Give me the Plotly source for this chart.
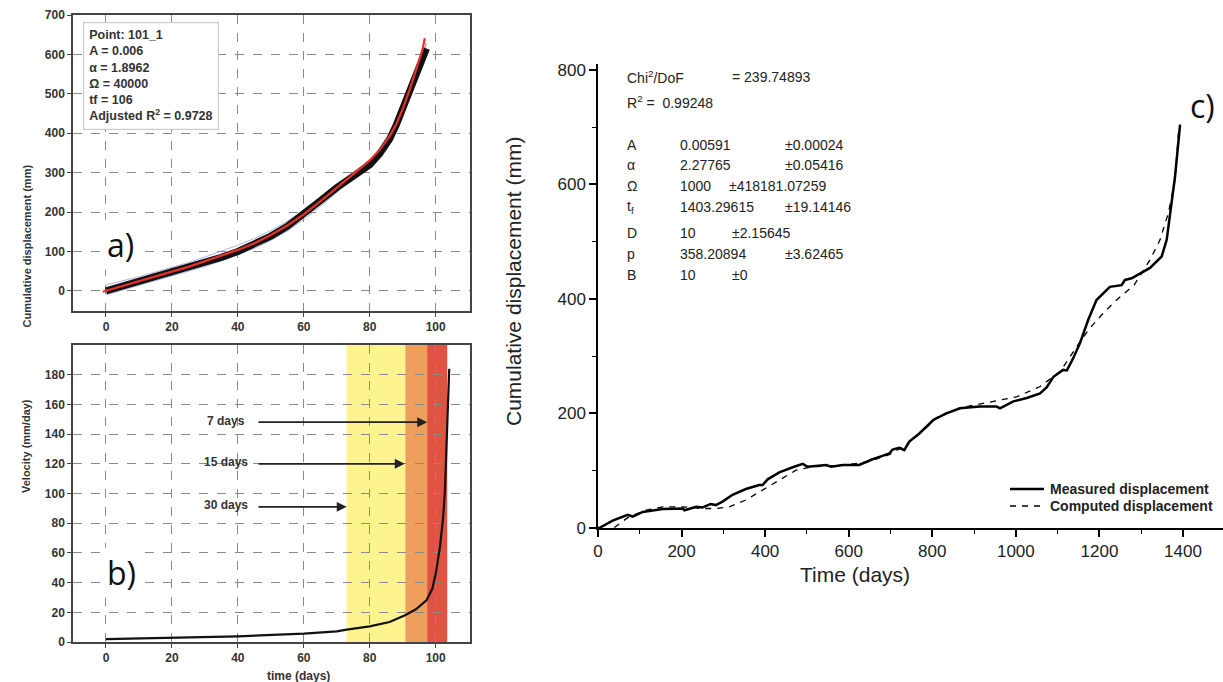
import plotly.graph_objects as go

W, H = 1223, 682

# ---------------- Panel a data ----------------
a_days = [0, 5, 10, 15, 20, 25, 30, 35, 40, 45, 50, 55, 60, 65, 70, 75, 80, 83, 86, 88, 90, 92, 94, 96, 97.2]
a_meas = [0, 12, 24, 36, 48, 59, 71, 85, 100, 118, 139, 164, 194, 229, 262, 292, 320, 348, 385, 420, 465, 510, 552, 592, 615]
a_fit_days = [-1, 5, 10, 15, 20, 25, 30, 35, 40, 45, 50, 55, 60, 65, 70, 75, 80, 83, 86, 88, 90, 92, 94, 96, 96.7]
a_fit = [-2, 12, 24, 36, 49, 61, 75, 89, 104, 121, 142, 166, 194, 227, 262, 296, 331, 358, 392, 422, 462, 508, 558, 612, 641]
a_up = [15, 25, 36, 48, 60, 72, 86, 100, 116, 133, 153, 177, 203, 235, 268, 300, 333, 360, 393, 424, 463, 508, 556, 605, 630]
a_lo = [-10, 2, 13, 25, 37, 49, 62, 76, 91, 108, 128, 152, 181, 214, 250, 285, 322, 350, 385, 418, 460, 506, 553, 600, 625]

# ---------------- Panel b data ----------------
b_days = [0, 20, 40, 60, 70, 73, 80, 86, 90.7, 94, 97.2, 99, 100, 101.3, 102.3, 102.8, 103.3, 103.8, 104.1]
b_vel = [2, 2.8, 3.8, 5.6, 7.2, 8.3, 10.5, 13.5, 18, 22, 28, 36, 46, 64, 85, 102, 130, 165, 184]
b_bands = [(73, 90.8, "#FDF490"), (90.8, 97.4, "#EE9F5C"), (97.4, 103.5, "#DF5342")]
b_arrows = [("7 days", 148, 45.8, 97.4), ("15 days", 120, 45.8, 90.6), ("30 days", 91, 45.8, 73)]

# ---------------- Panel c data ----------------
c_days = [0, 3, 35, 71, 83, 107, 155, 203, 207, 235, 250, 270, 282, 298, 322, 354, 386, 394, 406, 434,
          466, 490, 502, 546, 558, 586, 625, 657, 681, 697, 705, 721, 733, 745, 769, 785, 803, 834,
          866, 914, 954, 962, 994, 1026, 1058, 1074, 1090, 1113, 1122, 1137, 1153, 1173, 1193, 1225,
          1253, 1261, 1277, 1321, 1349, 1361, 1369, 1381, 1393]
c_meas = [0, 0, 13, 23, 20, 28, 33, 34, 31, 37, 36, 42, 40, 46, 58, 68, 75, 75, 85, 97,
          106, 112, 107, 110, 107, 110, 110, 120, 126, 130, 137, 140, 136, 151, 165, 177, 189, 200,
          209, 212, 212, 209, 221, 227, 235, 246, 264, 276, 275, 296, 322, 363, 398, 421,
          424, 433, 436, 454, 474, 503, 550, 614, 704]
c_comp_days = [39, 75, 115, 155, 203, 250, 282, 314, 354, 394, 434, 474, 514, 594, 649, 697, 737, 775,
               818, 882, 946, 1002, 1058, 1106, 1146, 1175, 1209, 1241, 1283, 1321, 1345, 1365, 1381, 1389]
c_comp = [1, 20, 31, 37, 37, 34, 34, 37, 49, 66, 84, 101, 107, 110, 116, 128, 145, 168,
          197, 212, 221, 229, 247, 273, 317, 347, 375, 398, 424, 468, 503, 550, 608, 690]
c_legend = ["Measured displacement", "Computed displacement"]

fig = go.Figure()

# panel a traces
fig.add_trace(go.Scatter(x=a_days, y=a_up, mode="lines", line=dict(color="rgba(140,150,220,0.7)", width=1),
                         xaxis="x", yaxis="y"))
fig.add_trace(go.Scatter(x=a_days, y=a_lo, mode="lines", line=dict(color="rgba(140,150,220,0.7)", width=1),
                         xaxis="x", yaxis="y"))
fig.add_trace(go.Scatter(x=a_days, y=a_meas, mode="lines", line=dict(color="#111111", width=7),
                         xaxis="x", yaxis="y"))
fig.add_trace(go.Scatter(x=a_fit_days, y=a_fit, mode="lines", line=dict(color="#E8302A", width=2.2),
                         xaxis="x", yaxis="y"))

# panel b trace
fig.add_trace(go.Scatter(x=b_days, y=b_vel, mode="lines", line=dict(color="#111111", width=2.2),
                         xaxis="x2", yaxis="y2"))

# panel c traces
fig.add_trace(go.Scatter(x=c_days, y=c_meas, mode="lines", line=dict(color="#000000", width=2.5),
                         xaxis="x3", yaxis="y3", name=c_legend[0]))
fig.add_trace(go.Scatter(x=c_comp_days, y=c_comp, mode="lines", line=dict(color="#000000", width=1.3, dash="6px,6px"),
                         xaxis="x3", yaxis="y3", name=c_legend[1]))

bold = dict(family="Liberation Sans, Arial", size=12, color="#333333", weight="bold")
grid_common = dict(showgrid=True, gridcolor="#8a8a8a", griddash="dash", gridwidth=1,
                   showline=True, linecolor="#444444", linewidth=1.5, mirror=True,
                   ticks="outside", ticklen=4, tickcolor="#444444", zeroline=False,
                   tickfont=bold, automargin=False)
c_font = dict(family="Liberation Sans, Arial", size=17, color="#222")

fig.update_layout(
    width=W, height=H, margin=dict(l=0, r=0, t=0, b=0, pad=0, autoexpand=False),
    paper_bgcolor="white", plot_bgcolor="white", showlegend=False,
    xaxis=dict(domain=[73 / W, 470 / W], range=[-10, 110.4], tickvals=[0, 20, 40, 60, 80, 100],
               anchor="y", **grid_common),
    yaxis=dict(domain=[1 - 311 / H, 1 - 15 / H], range=[-51, 700], tickvals=list(range(0, 701, 100)),
               anchor="x", **grid_common),
    xaxis2=dict(domain=[73 / W, 470 / W], range=[-10, 110.4], tickvals=[0, 20, 40, 60, 80, 100],
                anchor="y2", **grid_common),
    yaxis2=dict(domain=[1 - 642 / H, 1 - 345 / H], range=[0, 200], tickvals=list(range(0, 181, 20)),
                anchor="x2", **grid_common),
    xaxis3=dict(domain=[598 / W, 1.0], range=[0, 625 / 585 * 1400], tickvals=list(range(0, 1401, 200)),
                anchor="y3", showgrid=False, zeroline=False, showline=True, linecolor="#000", linewidth=1.5,
                ticks="outside", ticklen=7, tickwidth=1.5, tickcolor="#000", automargin=False,
                minor=dict(tickvals=list(range(100, 1500, 200)), ticks="outside", ticklen=4, tickwidth=1.2, tickcolor="#000"),
                tickfont=c_font),
    yaxis3=dict(domain=[1 - 528 / H, 1 - 64 / H], range=[0, 810], tickvals=list(range(0, 801, 200)),
                anchor="x3", showgrid=False, zeroline=False, showline=True, linecolor="#000", linewidth=1.5,
                ticks="outside", ticklen=7, tickwidth=1.5, tickcolor="#000", automargin=False,
                minor=dict(tickvals=list(range(100, 800, 200)), ticks="outside", ticklen=4, tickwidth=1.2, tickcolor="#000"),
                tickfont=c_font),
)

shapes = []
for x0, x1, col in b_bands:
    shapes.append(dict(type="rect", xref="x2", yref="y2", x0=x0, x1=x1, y0=0, y1=200,
                       fillcolor=col, line=dict(width=0), layer="below"))
# panel c legend samples
shapes.append(dict(type="line", xref="paper", yref="paper", x0=1010 / W, x1=1044 / W, y0=1 - 489 / H, y1=1 - 489 / H,
                   line=dict(color="#000", width=2.5)))
shapes.append(dict(type="line", xref="paper", yref="paper", x0=1010 / W, x1=1044 / W, y0=1 - 506 / H, y1=1 - 506 / H,
                   line=dict(color="#000", width=1.3, dash="6px,6px")))
fig.update_layout(shapes=shapes)

ann = []
# panel a info box
ann.append(dict(xref="paper", yref="paper", x=83 / W, y=1 - 22 / H, xanchor="left", yanchor="top",
                text="Point: 101_1<br>A = 0.006<br>α = 1.8962<br>Ω = 40000<br>tf = 106<br>Adjusted R<sup>2</sup> = 0.9728",
                showarrow=False, align="left", font=dict(family="Liberation Sans, Arial", size=12.5, color="#333", weight="bold"),
                bgcolor="white", bordercolor="#cccccc", borderwidth=1.2, borderpad=5))
# panel labels
lab_font = dict(family="Open Sans, Liberation Sans", size=32, color="#111")
ann.append(dict(xref="paper", yref="paper", x=103 / W, y=1 - 244 / H, xanchor="left", text="a)", showarrow=False,
                font=lab_font, bgcolor="white", borderpad=3))
ann.append(dict(xref="paper", yref="paper", x=103 / W, y=1 - 598 / H, xanchor="left", text="b)", showarrow=False,
                font=lab_font, bgcolor="white", borderpad=3))
ann.append(dict(xref="paper", yref="paper", x=1188 / W, y=1 - 82 / H, xanchor="left", text="c)", showarrow=False,
                font=lab_font))
# axis titles a/b
ann.append(dict(xref="paper", yref="paper", x=18 / W, y=1 - 163 / H, text="Cumulative displacement (mm)",
                textangle=-90, showarrow=False, font=dict(family="Liberation Sans, Arial", size=11, color="#333", weight="bold")))
ann.append(dict(xref="paper", yref="paper", x=18 / W, y=1 - 495 / H, text="Velocity (mm/day)",
                textangle=-90, showarrow=False, font=dict(family="Liberation Sans, Arial", size=11, color="#333", weight="bold")))
ann.append(dict(xref="paper", yref="paper", x=265 / W, y=1 - 676 / H, yanchor="middle", text="time (days)",
                showarrow=False, font=dict(family="Liberation Sans, Arial", size=12, color="#333", weight="bold")))
# panel b arrows
for label, yv, xs, xe in b_arrows:
    ann.append(dict(xref="x2", yref="y2", x=xe, y=yv, ax=xs, ay=yv, axref="x2", ayref="y2", text="",
                    showarrow=True, arrowhead=2, arrowsize=1.1, arrowwidth=1.8, arrowcolor="#222"))
    ann.append(dict(xref="x2", yref="y2", x=36.5, y=yv + 1, text=label, showarrow=False,
                    font=dict(family="Liberation Sans, Arial", size=12, color="#333", weight="bold")))
# panel c axis titles
ann.append(dict(xref="paper", yref="paper", x=513 / W, y=1 - 282 / H, text="Cumulative displacement (mm)",
                textangle=-90, showarrow=False, font=dict(family="Liberation Sans, Arial", size=21, color="#222")))
ann.append(dict(xref="paper", yref="paper", x=912 / W, y=1 - 588 / H, text="Time (days)",
                showarrow=False, font=dict(family="Liberation Sans, Arial", size=21, color="#222")))
# panel c legend texts
for i, t in enumerate(c_legend):
    ann.append(dict(xref="paper", yref="paper", x=1048 / W, y=1 - (489 + 17 * i) / H, xanchor="left", yanchor="middle",
                    text=t, showarrow=False, font=dict(family="Liberation Sans, Arial", size=14, color="#222", weight="bold")))
# panel c fit text
cf = dict(family="Liberation Sans, Arial", size=14, color="#222")
rows = [
    (77, [(625, "Chi<sup>2</sup>/DoF"), (730, "= 239.74893")]),
    (102, [(625, "R<sup>2</sup> =  0.99248")]),
    (145, [(625, "A"), (678, "0.00591"), (783, "±0.00024")]),
    (165, [(625, "α"), (678, "2.27765"), (783, "±0.05416")]),
    (186, [(625, "Ω"), (678, "1000"), (727, "±418181.07259")]),
    (207, [(625, "t<sub>f</sub>"), (678, "1403.29615"), (783, "±19.14146")]),
    (233, [(625, "D"), (678, "10"), (730, "±2.15645")]),
    (254, [(625, "p"), (678, "358.20894"), (783, "±3.62465")]),
    (275, [(625, "B"), (678, "10"), (730, "±0")]),
]
for yy, cells in rows:
    for xx, t in cells:
        ann.append(dict(xref="paper", yref="paper", x=xx / W, y=1 - yy / H, xanchor="left", yanchor="middle",
                        text=t, showarrow=False, font=cf))

fig.update_layout(annotations=ann)
fig.write_html("out.html")
